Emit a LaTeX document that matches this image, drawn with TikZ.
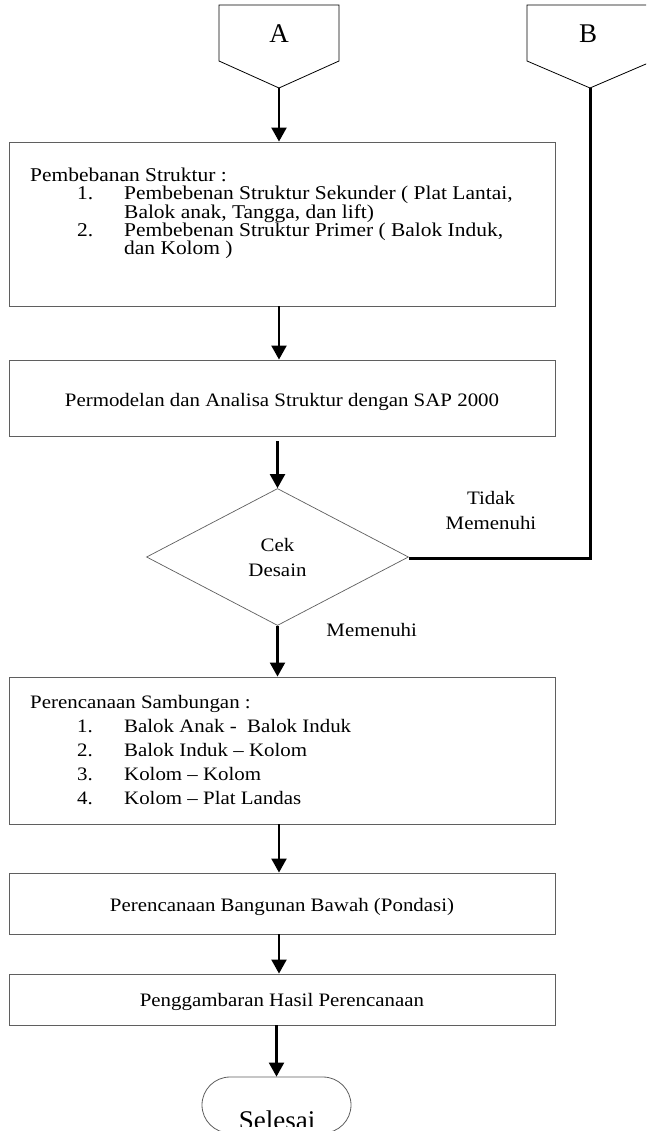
\documentclass[tikz,border=0pt]{standalone}
\usepackage{fontspec}
\setmainfont{Liberation Serif}
\newfontfamily\widefont[FakeStretch=1.1,Ligatures=TeX]{Liberation Serif}
\usetikzlibrary{arrows.meta,shapes.geometric,shapes.misc,calc}
\definecolor{boxgray}{RGB}{95,95,95}
\begin{document}
\begin{tikzpicture}[x=1pt,y=1pt,
  txt/.style={font=\widefont\fontsize{19}{24}\selectfont},
  big/.style={font=\fontsize{27}{30}\selectfont},
  box/.style={txt,draw=boxgray,line width=0.9pt,rectangle,minimum width=546,inner sep=0,text height=16pt,text depth=0pt},
  dec/.style={txt,draw=boxgray,line width=0.7pt,diamond,minimum width=262,minimum height=137,inner sep=0,align=center},
  term/.style={draw=boxgray,line width=0.8pt,rounded rectangle,minimum width=149,minimum height=56,inner sep=0},
  offpage/.style={draw=black,line width=0.8pt},
  flow/.style={line width=2.2pt,-{Triangle[width=15pt,length=14pt]}},
  thickline/.style={line width=3pt},
  lbl/.style={txt,anchor=base,inner sep=0}
]
\useasboundingbox (0,0) rectangle (646,-1131);
\fill[white] (0,0) rectangle (646,-1131);
\clip (0,0) rectangle (646,-1131);

% off-page connectors
\draw[offpage] (219,-5) -- (339,-5) -- (339,-61) -- (279,-88) -- (219,-61) -- cycle;
\coordinate (Atip) at (279,-88);
\node[big] (A) at (279,-34) {A};
\draw[offpage] (527,-5) -- (653,-5) -- (653,-61) -- (590,-88) -- (527,-61) -- cycle;
\coordinate (Btip) at (590,-88);
\node[big] (B) at (588,-34) {B};

% process boxes
\node[box,minimum height=164] (box1) at (282,-224) {};
\node[txt,anchor=base west,inner sep=0] (t1) at (30,-181.7) {\parbox[t]{600pt}{\widefont\fontsize{19.5}{18.3}\selectfont
  Pembebanan Struktur :\\
  \hspace*{47pt}\makebox[47pt][l]{1.}Pembebenan Struktur Sekunder ( Plat Lantai,\\
  \hspace*{94pt}Balok anak, Tangga, dan lift)\\
  \hspace*{47pt}\makebox[47pt][l]{2.}Pembebenan Struktur Primer ( Balok Induk,\\
  \hspace*{94pt}dan Kolom )}};

\node[box,minimum height=76] (box2) at (282,-398) {Permodelan dan Analisa Struktur dengan SAP 2000};

\node[dec,font=\widefont\fontsize{19}{25}\selectfont] (dia) at (277.5,-557) {Cek\\Desain};

\node[box,minimum height=147] (box4) at (282,-750.5) {};
\node[txt,anchor=base west,inner sep=0] (t4) at (30,-708) {\parbox[t]{600pt}{\widefont\fontsize{19}{24}\selectfont
  Perencanaan Sambungan :\\
  \hspace*{47pt}\makebox[47pt][l]{1.}Balok Anak -\ \ Balok Induk\\
  \hspace*{47pt}\makebox[47pt][l]{2.}Balok Induk – Kolom\\
  \hspace*{47pt}\makebox[47pt][l]{3.}Kolom – Kolom\\
  \hspace*{47pt}\makebox[47pt][l]{4.}Kolom – Plat Landas}};

\node[box,minimum height=61] (box5) at (282,-903.5) {Perencanaan Bangunan Bawah (Pondasi)};
\node[box,minimum height=51,text height=14.5pt] (box6) at (282,-999.5) {Penggambaran Hasil Perencanaan};

\node[term] (end) at (276.5,-1105) {};
\begin{scope}
  \clip (0,0) rectangle (646,-1126.5);
  \node[big,anchor=base,inner sep=0] (endtxt) at (277,-1129) {Selesai};
\end{scope}

% labels
\node[lbl] (no) at (491,-504) {\parbox[t]{140pt}{\centering\widefont\fontsize{19}{25}\selectfont Tidak\\Memenuhi}};
\node[lbl] (yes) at (371.7,-636.7) {Memenuhi};

% connectors
\draw[flow] (Atip) -- (Atip |- box1.north);
\draw[flow] (box1.south -| Atip) -- (box2.north -| Atip);
\draw[flow,shorten <=5pt] (box2.south -| dia.north) -- (dia.north);
\draw[flow] (dia.south) -- (dia.south |- box4.north);
\draw[flow] (box4.south -| Atip) -- (box5.north -| Atip);
\draw[flow] (box5.south -| Atip) -- (box6.north -| Atip);
\draw[flow] (box6.south -| end.north) -- (end.north);
\draw[thickline] (Btip) |- ([yshift=-1.5pt]dia.east);
\end{tikzpicture}
\end{document}
